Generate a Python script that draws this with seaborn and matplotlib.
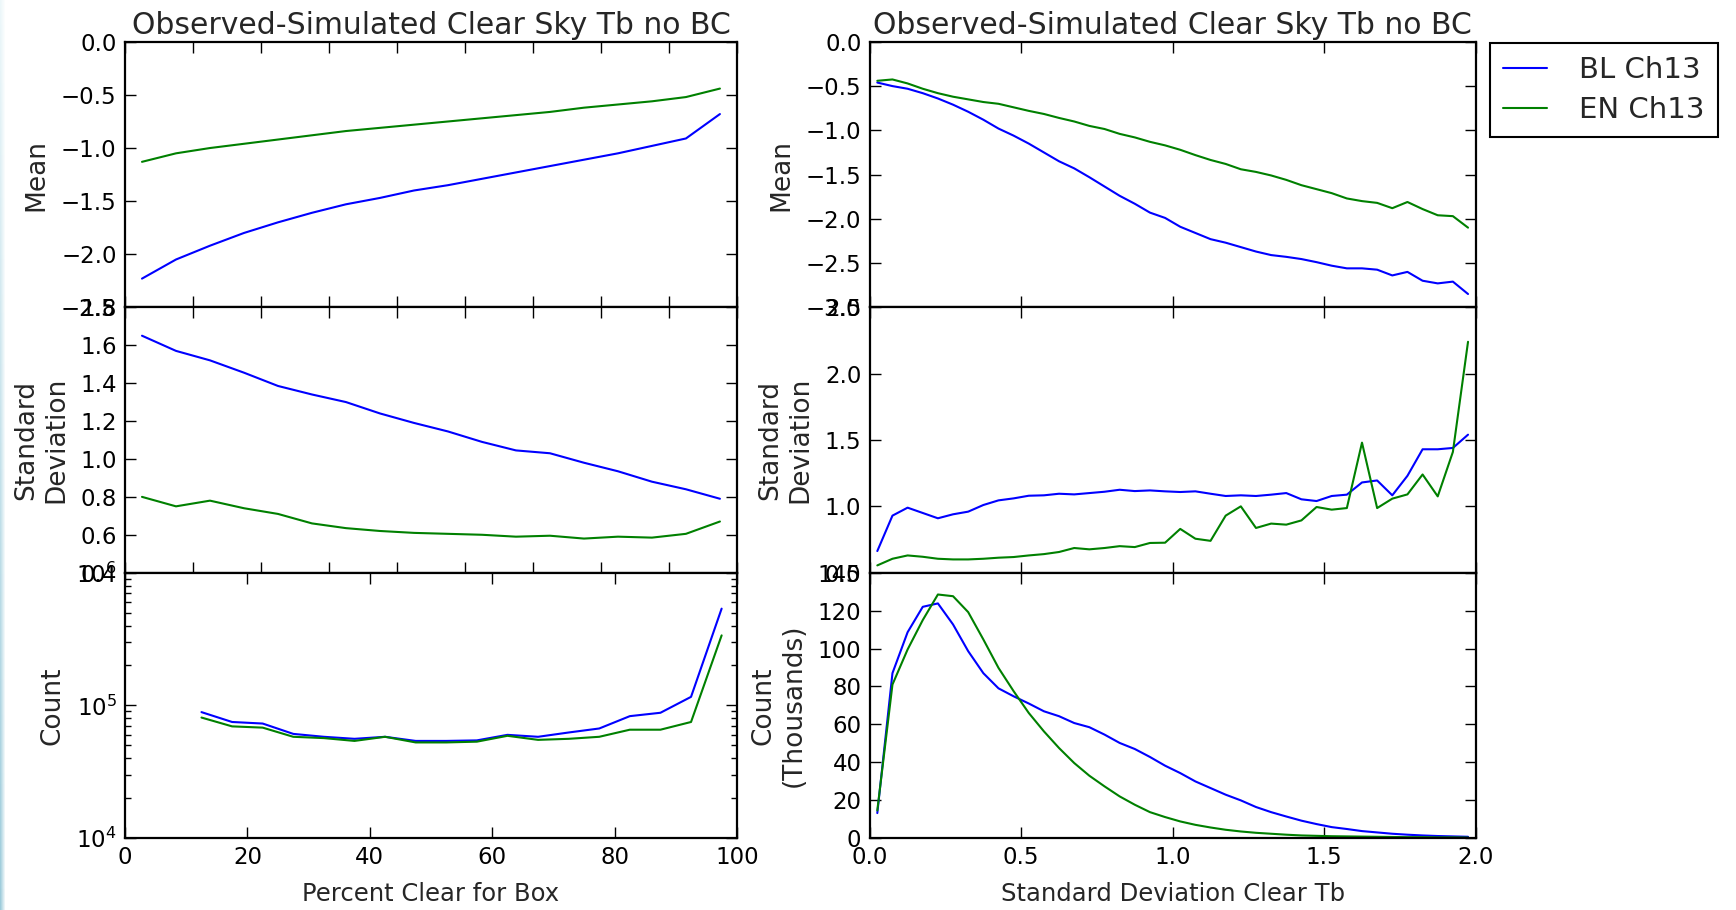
import numpy as np
import matplotlib
matplotlib.use("Agg")
import matplotlib.pyplot as plt
import seaborn as sns

# ---------------- data ----------------
# left column, upper rows (mean / std dev) x positions
pct_x = [2.5, 7.5, 12.5, 17.5, 22.5, 27.5, 32.5, 37.5, 42.5, 47.5,
         52.5, 57.5, 62.5, 67.5, 72.5, 77.5, 82.5, 87.5]
bl_mean_pct = [-2.23, -2.05, -1.92, -1.80, -1.70, -1.61, -1.53, -1.47, -1.40,
               -1.35, -1.29, -1.23, -1.17, -1.11, -1.05, -0.98, -0.91, -0.68]
en_mean_pct = [-1.13, -1.05, -1.00, -0.96, -0.92, -0.88, -0.84, -0.81, -0.78,
               -0.75, -0.72, -0.69, -0.66, -0.62, -0.59, -0.56, -0.52, -0.44]
bl_sd_pct = [1.65, 1.57, 1.52, 1.455, 1.385, 1.34, 1.30, 1.24, 1.19,
             1.145, 1.09, 1.045, 1.03, 0.98, 0.935, 0.88, 0.84, 0.79]
en_sd_pct = [0.80, 0.75, 0.78, 0.74, 0.71, 0.66, 0.635, 0.62, 0.61,
             0.605, 0.60, 0.59, 0.595, 0.58, 0.59, 0.585, 0.605, 0.67]

# left column, count row
pct_count_x = [12.5, 17.5, 22.5, 27.5, 32.5, 37.5, 42.5, 47.5, 52.5,
               57.5, 62.5, 67.5, 72.5, 77.5, 82.5, 87.5, 92.5, 97.5]
bl_count_pct = [89000, 75000, 73000, 61000, 58000, 56000, 58000, 54000, 54000,
                54500, 60000, 58000, 62500, 67000, 83000, 88000, 116000, 536000]
en_count_pct = [81000, 69500, 68000, 58000, 56700, 54000, 58000, 52600, 52600,
                53300, 59000, 55000, 56000, 58000, 65600, 65600, 75000, 337000]

# right column x positions (std dev clear Tb)
sd_x = [0.025, 0.075, 0.125, 0.175, 0.225, 0.275, 0.325, 0.375, 0.425, 0.475,
        0.525, 0.575, 0.625, 0.675, 0.725, 0.775, 0.825, 0.875, 0.925, 0.975,
        1.025, 1.075, 1.125, 1.175, 1.225, 1.275, 1.325, 1.375, 1.425, 1.475,
        1.525, 1.575, 1.625, 1.675, 1.725, 1.775, 1.825, 1.875, 1.925, 1.975]
bl_mean_sd = [-0.46, -0.50, -0.53, -0.58, -0.64, -0.71, -0.79, -0.88, -0.98, -1.06,
              -1.15, -1.25, -1.35, -1.43, -1.53, -1.635, -1.74, -1.83, -1.93, -1.99,
              -2.09, -2.16, -2.23, -2.27, -2.32, -2.37, -2.41, -2.43, -2.455, -2.49,
              -2.53, -2.56, -2.56, -2.575, -2.64, -2.60, -2.70, -2.73, -2.71, -2.85]
en_mean_sd = [-0.44, -0.425, -0.47, -0.53, -0.58, -0.62, -0.65, -0.68, -0.70, -0.74,
              -0.78, -0.815, -0.86, -0.90, -0.95, -0.985, -1.04, -1.08, -1.13, -1.17,
              -1.22, -1.28, -1.335, -1.38, -1.44, -1.47, -1.51, -1.56, -1.62, -1.665,
              -1.71, -1.77, -1.80, -1.82, -1.88, -1.81, -1.89, -1.96, -1.97, -2.10]
bl_sd_sd = [0.663, 0.93, 0.99, 0.95, 0.91, 0.94, 0.96, 1.01, 1.045, 1.06,
            1.08, 1.083, 1.095, 1.09, 1.10, 1.11, 1.125, 1.115, 1.12, 1.113,
            1.108, 1.113, 1.095, 1.078, 1.083, 1.078, 1.088, 1.10, 1.053, 1.04,
            1.078, 1.088, 1.18, 1.195, 1.083, 1.23, 1.43, 1.43, 1.44, 1.54]
en_sd_sd = [0.555, 0.605, 0.63, 0.62, 0.605, 0.60, 0.60, 0.605, 0.613, 0.618,
            0.63, 0.64, 0.656, 0.686, 0.676, 0.686, 0.70, 0.693, 0.724, 0.726,
            0.83, 0.756, 0.74, 0.93, 1.00, 0.837, 0.87, 0.862, 0.894, 0.995,
            0.975, 0.987, 1.48, 0.987, 1.058, 1.09, 1.24, 1.075, 1.41, 2.24]
bl_count_sd = [13.2, 87, 108.6, 122, 123.8, 112.7, 98.6, 87, 79, 74.8,
               71, 66.9, 64.3, 60.7, 58.5, 54.6, 50.2, 47, 42.8, 38.2,
               34.3, 29.9, 26.4, 22.9, 19.9, 16.4, 13.7, 11.4, 9.2, 7.4,
               5.8, 4.8, 3.7, 3.0, 2.3, 1.8, 1.4, 1.1, 0.9, 0.7]
en_count_sd = [14.6, 81, 99.5, 115, 128.5, 127.6, 119.2, 104.8, 89.8, 77.5,
               66, 56.3, 47.5, 39.6, 32.9, 27.3, 22, 17.6, 13.7, 11.1,
               8.8, 7.0, 5.6, 4.4, 3.5, 2.8, 2.3, 1.8, 1.4, 1.2,
               1.0, 0.9, 0.8, 0.7, 0.6, 0.5, 0.5, 0.4, 0.4, 0.3]

series_labels = ["BL Ch13", "EN Ch13"]
title_text = "Observed-Simulated Clear Sky Tb no BC"

# ---------------- style ----------------
sns.set_style("ticks")
plt.rcParams['font.family'] = ['DejaVu Sans']
plt.rcParams['mathtext.default'] = 'regular'

BLUE = (0.0, 0.0, 1.0)
GREEN = (0.0, 0.5, 0.0)
TICK_FS = 16.5
YLAB_FS = 19
XLAB_FS = 17.5
TITLE_FS = 21.5

W, H = 1736, 910
fig = plt.figure(figsize=(W / 100, H / 100), dpi=100)
fig.patch.set_facecolor('white')

# faint bluish strip at the very left edge (slide background)
g = np.linspace(0, 1, H)[:, None, None]
top_c = np.array([0.93, 0.97, 0.98])[None, None, :]
bot_c = np.array([0.62, 0.80, 0.86])[None, None, :]
fade = np.linspace(1, 0, 6)[None, :, None]
strip = (top_c * (1 - g) + bot_c * g) * fade + (1 - fade)
fig.figimage(strip, xo=0, yo=0, origin='upper', zorder=0)

top, bottom = 0.954, 0.079
h = (top - bottom) / 3
cols = [(0.072, 0.4245 - 0.072), (0.501, 0.850 - 0.501)]
axes = [[None] * 3 for _ in range(2)]
for c, (l, w) in enumerate(cols):
    for r in range(3):
        axes[c][r] = fig.add_axes([l, top - (r + 1) * h, w, h])


def style(ax):
    for s in ax.spines.values():
        s.set_color('black')
        s.set_linewidth(1.6)
    ax.tick_params(which='both', direction='in', top=True, right=True,
                   colors='black', labelsize=TICK_FS, width=1.0)
    ax.tick_params(which='major', length=8, pad=6)
    ax.tick_params(which='minor', length=4)
    ax.set_facecolor('white')


def draw(ax, x, y1, y2):
    sns.lineplot(x=x, y=y1, ax=ax, color=BLUE, lw=1.5, label=series_labels[0])
    sns.lineplot(x=x, y=y2, ax=ax, color=GREEN, lw=1.5, label=series_labels[1])
    if ax.get_legend() is not None:
        ax.get_legend().remove()


# ---- left column ----
axL0, axL1, axL2 = axes[0]
draw(axL0, pct_x, bl_mean_pct, en_mean_pct)
axL0.set_xlim(0, 90)
axL0.set_ylim(-2.5, 0.0)
axL0.set_yticks([0.0, -0.5, -1.0, -1.5, -2.0, -2.5])
axL0.set_title(title_text, fontsize=TITLE_FS, pad=6)
axL0.set_ylabel("Mean", fontsize=YLAB_FS, labelpad=8)

draw(axL1, pct_x, bl_sd_pct, en_sd_pct)
axL1.set_xlim(0, 90)
axL1.set_ylim(0.4, 1.8)
axL1.set_yticks([0.4, 0.6, 0.8, 1.0, 1.2, 1.4, 1.6, 1.8])
axL1.set_ylabel("Standard\nDeviation", fontsize=YLAB_FS, labelpad=8)

for ax in (axL0, axL1):
    ax.set_xticks(list(range(0, 91, 10)))
    ax.set_xticklabels([])
    ax.set_xlabel("")

draw(axL2, pct_count_x, bl_count_pct, en_count_pct)
axL2.set_yscale('log')
axL2.set_xlim(0, 100)
axL2.set_ylim(1e4, 1e6)
axL2.set_xticks([0, 20, 40, 60, 80, 100])
axL2.set_ylabel("Count", fontsize=YLAB_FS, labelpad=8)
axL2.set_xlabel("Percent Clear for Box", fontsize=XLAB_FS, labelpad=9)

# ---- right column ----
axR0, axR1, axR2 = axes[1]
draw(axR0, sd_x, bl_mean_sd, en_mean_sd)
axR0.set_ylim(-3.0, 0.0)
axR0.set_yticks([0.0, -0.5, -1.0, -1.5, -2.0, -2.5, -3.0])
axR0.set_title(title_text, fontsize=TITLE_FS, pad=6)
axR0.set_ylabel("Mean", fontsize=YLAB_FS, labelpad=8)

draw(axR1, sd_x, bl_sd_sd, en_sd_sd)
axR1.set_ylim(0.5, 2.5)
axR1.set_yticks([0.5, 1.0, 1.5, 2.0, 2.5])
axR1.set_ylabel("Standard\nDeviation", fontsize=YLAB_FS, labelpad=8)

draw(axR2, sd_x, bl_count_sd, en_count_sd)
axR2.set_ylim(0, 140)
axR2.set_yticks(list(range(0, 141, 20)))
axR2.set_ylabel("Count\n(Thousands)", fontsize=YLAB_FS, labelpad=8)
axR2.set_xlabel("Standard Deviation Clear Tb", fontsize=XLAB_FS, labelpad=9)

for ax in (axR0, axR1, axR2):
    ax.set_xlim(0, 2.0)
    ax.set_xticks([0.0, 0.5, 1.0, 1.5, 2.0])
for ax in (axR0, axR1):
    ax.set_xticklabels([])
    ax.set_xlabel("")
axR2.set_xticklabels(["0.0", "0.5", "1.0", "1.5", "2.0"])

for col in axes:
    for ax in col:
        style(ax)

fig.align_ylabels(axes[0])
fig.align_ylabels(axes[1])

# legend outside at the right
handles, labels = axR0.get_legend_handles_labels()
leg = axR0.legend(handles, labels, loc='upper left',
                  bbox_to_anchor=(1490 / W, 1 - 43 / H),
                  bbox_transform=fig.transFigure, borderaxespad=0,
                  frameon=True, fancybox=False, shadow=False,
                  edgecolor='black', framealpha=1, fontsize=21,
                  handlelength=1.5, handletextpad=1.1, borderpad=0.45,
                  labelspacing=0.4)
leg.get_frame().set_linewidth(1.5)

fig.savefig("out.png", dpi=100, facecolor='white')
